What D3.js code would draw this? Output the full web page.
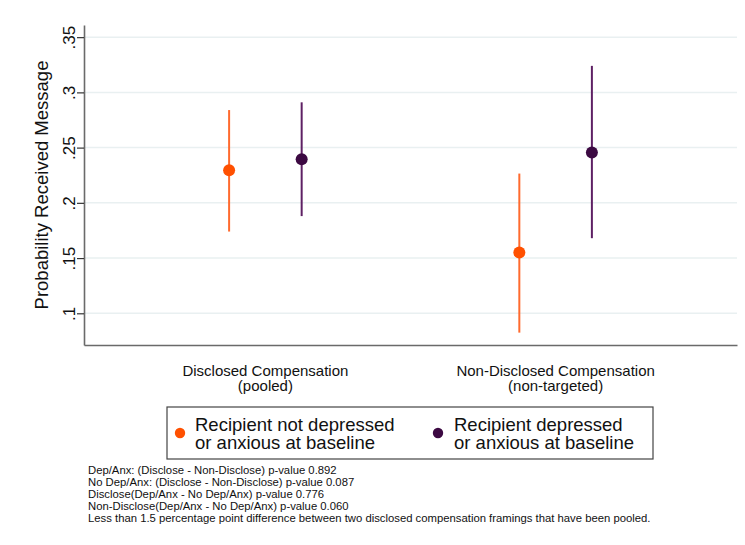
<!DOCTYPE html>
<html>
<head>
<meta charset="utf-8">
<script src="https://cdn.jsdelivr.net/npm/d3@7"></script>
<style>
  html, body { margin: 0; padding: 0; background: #ffffff; }
  svg { display: block; font-family: "Liberation Sans", Arial, Helvetica, sans-serif; }
</style>
</head>
<body>
<svg id="chart" width="745" height="545"></svg>
<script>
// Group labels (two lines each)
const categoryLine1 = ["Disclosed Compensation", "Non-Disclosed Compensation"];
const categoryLine2 = ["(pooled)", "(non-targeted)"];

// Series: recipient not depressed / anxious at baseline
const notDepEst = [0.2295, 0.155];
const notDepLo  = [0.174, 0.0825];
const notDepHi  = [0.284, 0.2265];

// Series: recipient depressed / anxious at baseline
const depEst = [0.2395, 0.2455];
const depLo  = [0.188, 0.168];
const depHi  = [0.291, 0.324];

const seriesLabels = [
  ["Recipient not depressed", "or anxious at baseline"],
  ["Recipient depressed", "or anxious at baseline"]
];

const yTickValues = [0.1, 0.15, 0.2, 0.25, 0.3, 0.35];
const yTickLabels = [".1", ".15", ".2", ".25", ".3", ".35"];

const notes = [
  "Dep/Anx: (Disclose  - Non-Disclose) p-value 0.892",
  "No Dep/Anx: (Disclose - Non-Disclose) p-value 0.087",
  "Disclose(Dep/Anx - No Dep/Anx) p-value 0.776",
  "Non-Disclose(Dep/Anx - No Dep/Anx) p-value 0.060",
  "Less than 1.5 percentage point difference between two disclosed compensation framings that have been pooled."
];

const colors = {
  notDep: { marker: "#ff5000", ci: "#ff6a2e" },
  dep:    { marker: "#3c0942", ci: "#5e2064" }
};

const svg = d3.select("#chart");
const plot = { left: 84, right: 737, top: 25, bottom: 345 };

const x = d3.scaleLinear().domain([0.375, 2.625]).range([plot.left, plot.right]);
const y = d3.scaleLinear().domain([0.0713, 0.361]).range([plot.bottom, plot.top]);
const dodge = 0.125;

// Horizontal gridlines
svg.append("g")
  .selectAll("line")
  .data(yTickValues)
  .join("line")
  .attr("x1", plot.left).attr("x2", plot.right)
  .attr("y1", d => y(d)).attr("y2", d => y(d))
  .attr("stroke", "#e9f0f1").attr("stroke-width", 1.5);

// Y axis with vertical tick labels
const yAxis = svg.append("g")
  .attr("transform", `translate(${plot.left},0)`)
  .call(d3.axisLeft(y)
    .tickValues(yTickValues)
    .tickFormat((d, i) => yTickLabels[i])
    .tickSize(7)
    .tickSizeOuter(0));
yAxis.select(".domain").attr("stroke", "#6a6a6a").attr("stroke-width", 1.6);
yAxis.selectAll(".tick line").attr("stroke", "#333").attr("stroke-width", 1.2);
yAxis.selectAll(".tick text")
  .attr("transform", "rotate(-90)")
  .attr("x", 0).attr("y", -9).attr("dy", 0)
  .attr("text-anchor", "middle")
  .attr("font-size", 17)
  .attr("font-family", "Liberation Sans, Arial, sans-serif")
  .attr("fill", "#111");

// X axis (no ticks)
const xAxis = svg.append("g")
  .attr("transform", `translate(0,${plot.bottom})`)
  .call(d3.axisBottom(x).tickValues([]).tickSizeOuter(0));
xAxis.select(".domain").attr("stroke", "#6a6a6a").attr("stroke-width", 1.6);

// Y axis title
svg.append("text")
  .attr("transform", `translate(48,${(plot.top + plot.bottom) / 2}) rotate(-90)`)
  .attr("text-anchor", "middle")
  .attr("font-size", 18.5)
  .attr("fill", "#111")
  .text("Probability Received Message");

// Category labels under the axis, one text per line
const catData = categoryLine1.map((l, i) => ({ l1: l, l2: categoryLine2[i], pos: i + 1 }));
const catG = svg.append("g").attr("text-anchor", "middle").attr("font-size", 15).attr("fill", "#111");
catG.selectAll("text.l1").data(catData).join("text").attr("class", "l1")
  .attr("x", d => x(d.pos)).attr("y", 375.5).text(d => d.l1);
catG.selectAll("text.l2").data(catData).join("text").attr("class", "l2")
  .attr("x", d => x(d.pos)).attr("y", 391).text(d => d.l2);

// Estimates with confidence intervals
const series = [
  { key: "notDep", est: notDepEst, lo: notDepLo, hi: notDepHi, off: -dodge },
  { key: "dep",    est: depEst,    lo: depLo,    hi: depHi,    off: dodge }
];

series.forEach(s => {
  const pts = s.est.map((v, i) => ({ pos: i + 1 + s.off, est: v, lo: s.lo[i], hi: s.hi[i] }));
  const g = svg.append("g");
  g.selectAll("line")
    .data(pts)
    .join("line")
    .attr("x1", d => x(d.pos)).attr("x2", d => x(d.pos))
    .attr("y1", d => y(d.lo)).attr("y2", d => y(d.hi))
    .attr("stroke", colors[s.key].ci).attr("stroke-width", 2);
  g.selectAll("circle")
    .data(pts)
    .join("circle")
    .attr("cx", d => x(d.pos)).attr("cy", d => y(d.est))
    .attr("r", 6)
    .attr("fill", colors[s.key].marker);
});

// Legend
const legend = svg.append("g");
legend.append("rect")
  .attr("x", 167).attr("y", 407).attr("width", 486).attr("height", 52)
  .attr("fill", "#fff").attr("stroke", "#444").attr("stroke-width", 1.2);

const legendItems = [
  { key: "notDep", mx: 180, tx: 195, lines: seriesLabels[0] },
  { key: "dep",    mx: 438, tx: 454, lines: seriesLabels[1] }
];
legendItems.forEach(it => {
  legend.append("circle")
    .attr("cx", it.mx).attr("cy", 433).attr("r", 5.2)
    .attr("fill", colors[it.key].marker);
  it.lines.forEach((line, j) => {
    legend.append("text")
      .attr("x", it.tx).attr("y", 430.5 + j * 18)
      .attr("font-size", 18.5).attr("fill", "#111")
      .text(line);
  });
});

// Footnotes
svg.append("g").selectAll("text")
  .data(notes)
  .join("text")
  .attr("x", 88)
  .attr("y", (d, i) => 474 + i * 12)
  .attr("font-size", 11.3)
  .attr("fill", "#111")
  .text(d => d);
</script>
</body>
</html>
